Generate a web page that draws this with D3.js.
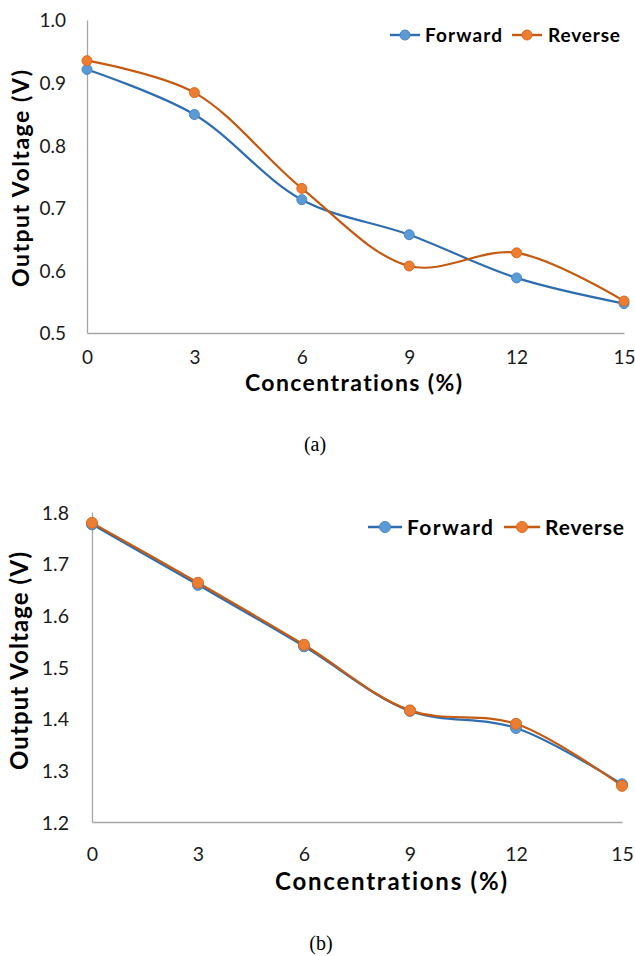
<!DOCTYPE html>
<html><head><meta charset="utf-8">
<script src="https://cdn.jsdelivr.net/npm/d3@7"></script>
<style>
html,body{margin:0;padding:0;background:#fff;}
svg{display:block;}
svg text{font-variant-ligatures:none;font-feature-settings:"liga" 0,"clig" 0;}
</style></head>
<body>
<svg id="c" width="635" height="956"></svg>
<script>
const concentrations = [0, 3, 6, 9, 12, 15];
const forwardA = [0.921, 0.849, 0.713, 0.657, 0.588, 0.547];
const reverseA = [0.935, 0.884, 0.731, 0.607, 0.628, 0.551];
const forwardB = [1.776, 1.659, 1.540, 1.415, 1.382, 1.273];
const reverseB = [1.779, 1.663, 1.543, 1.416, 1.390, 1.270];
const yTicksA = [0.5, 0.6, 0.7, 0.8, 0.9, 1.0];
const yTicksB = [1.2, 1.3, 1.4, 1.5, 1.6, 1.7, 1.8];
const seriesNames = ["Forward", "Reverse"];
const captions = ["(a)", "(b)"];
const xTitle = "Concentrations (%)";
const yTitle = "Output Voltage (V)";

const colors = {
  Forward: {line: "#2e6eb0", fill: "#5b9bd5", stroke: "#4a86c2"},
  Reverse: {line: "#c55a11", fill: "#ed7d31", stroke: "#d96a22"}
};

const svg = d3.select("#c");
const sansFont = "Lato, 'Open Sans', sans-serif";

function drawChart(cfg) {
  const g = svg.append("g");
  const x = d3.scaleLinear().domain([0, 15]).range([cfg.left, cfg.right]);
  const y = d3.scaleLinear().domain(cfg.yDomain).range([cfg.bottom, cfg.top]);

  const xAxis = d3.axisBottom(x).tickValues(concentrations).tickSize(0).tickFormat(d3.format("d"));
  const gx = g.append("g").attr("transform", `translate(0,${cfg.bottom})`).call(xAxis);
  gx.select(".domain").attr("stroke", "#a6a6a6").attr("stroke-width", 1.3);
  gx.selectAll("text").attr("font-family", sansFont).attr("font-size", cfg.tickSize).attr("fill", "#1a1a1a")
    .attr("dy", null).attr("y", cfg.xTickBase);

  const yAxis = d3.axisLeft(y).tickValues(cfg.yTicks).tickSize(0).tickPadding(cfg.yPad).tickFormat(d3.format(".1f"));
  const gy = g.append("g").attr("transform", `translate(${cfg.left},0)`).call(yAxis);
  gy.select(".domain").attr("stroke", "#a6a6a6").attr("stroke-width", 1.3);
  gy.selectAll("text").attr("font-family", sansFont).attr("font-size", cfg.tickSize).attr("fill", "#1a1a1a")
    .attr("dy", "0.36em");

  g.append("text").attr("x", cfg.xTitleX).attr("y", cfg.xTitleY)
    .attr("text-anchor", "middle")
    .attr("font-family", sansFont).attr("font-weight", "bold").attr("font-size", cfg.titleSize)
    .attr("textLength", cfg.xTitleLen).attr("lengthAdjust", "spacing")
    .attr("fill", "#000").text(xTitle);
  g.append("text").attr("transform", `translate(${cfg.yTitleX},${cfg.yTitleY}) rotate(-90)`)
    .attr("x", -cfg.yTitleLen / 2).attr("dy", "0.36em")
    .attr("font-family", sansFont).attr("font-weight", "bold").attr("font-size", cfg.titleSize)
    .attr("textLength", cfg.yTitleLen).attr("lengthAdjust", "spacing")
    .attr("fill", "#000").text(yTitle);

  const line = d3.line().x((d, i) => x(concentrations[i])).y(d => y(d)).curve(d3.curveCatmullRom.alpha(0.5));
  const data = {Forward: cfg.forward, Reverse: cfg.reverse};
  seriesNames.forEach(name => {
    g.append("path").attr("d", line(data[name])).attr("fill", "none")
      .attr("stroke", colors[name].line).attr("stroke-width", 2.2);
  });
  seriesNames.forEach(name => {
    g.selectAll(null).data(data[name]).enter().append("circle")
      .attr("cx", (d, i) => x(concentrations[i])).attr("cy", d => y(d)).attr("r", cfg.r)
      .attr("fill", colors[name].fill).attr("stroke", colors[name].stroke).attr("stroke-width", 1);
  });

  cfg.legend.forEach((L, k) => {
    const name = seriesNames[k];
    g.append("line").attr("x1", L.x1).attr("x2", L.x2).attr("y1", cfg.legendY).attr("y2", cfg.legendY)
      .attr("stroke", colors[name].line).attr("stroke-width", 2.4);
    g.append("circle").attr("cx", (L.x1 + L.x2) / 2).attr("cy", cfg.legendY).attr("r", cfg.r)
      .attr("fill", colors[name].fill).attr("stroke", colors[name].stroke).attr("stroke-width", 1);
    g.append("text").attr("x", L.tx).attr("y", cfg.legendY).attr("dy", "0.36em")
      .attr("font-family", sansFont).attr("font-weight", "bold").attr("font-size", cfg.legendSize)
      .attr("textLength", L.len).attr("lengthAdjust", "spacing")
      .attr("fill", "#000").text(name);
  });

  g.append("text").attr("x", cfg.capX).attr("y", cfg.capY).attr("text-anchor", "middle")
    .attr("font-family", "'Liberation Serif', serif")
    .attr("font-size", 20).attr("fill", "#000").text(cfg.caption);
}

drawChart({
  left: 87, right: 624, top: 20, bottom: 333, yDomain: [0.5, 1.0], yTicks: yTicksA,
  forward: forwardA, reverse: reverseA, xTickBase: 31, yPad: 21, tickSize: 19, titleSize: 23,
  xTitleX: 353.5, xTitleY: 391, xTitleLen: 217,
  yTitleX: 21, yTitleY: 178.5, yTitleLen: 217, r: 5,
  legendY: 35, legendSize: 19,
  legend: [{x1: 390, x2: 420, tx: 425, len: 77}, {x1: 512, x2: 542, tx: 548, len: 72}],
  capX: 315, capY: 451, caption: captions[0]
});

drawChart({
  left: 92, right: 622, top: 512, bottom: 822, yDomain: [1.2, 1.8], yTicks: yTicksB,
  forward: forwardB, reverse: reverseB, xTickBase: 39, yPad: 23, tickSize: 19.5, titleSize: 24,
  xTitleX: 391, xTitleY: 890, xTitleLen: 232,
  yTitleX: 19, yTitleY: 661, yTitleLen: 218, r: 5.5,
  legendY: 527, legendSize: 21,
  legend: [{x1: 368, x2: 402, tx: 407, len: 86}, {x1: 504, x2: 540, tx: 545, len: 79}],
  capX: 321, capY: 950, caption: captions[1]
});
</script>
</body></html>
